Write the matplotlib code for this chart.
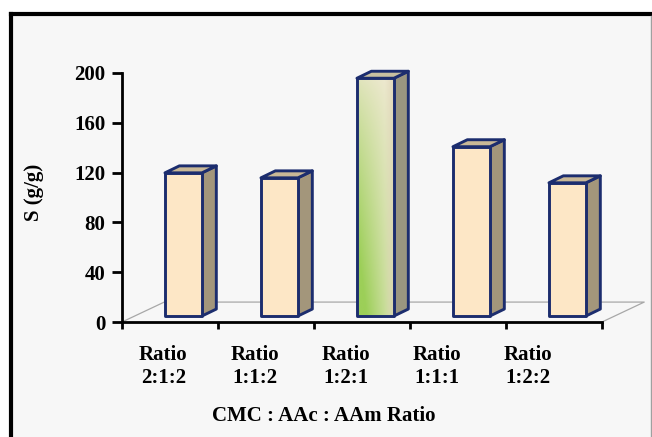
# ============================================
# 1. IMPORTS
# ============================================
import numpy as np
import matplotlib.pyplot as plt
from matplotlib.patches import Polygon, Rectangle
from matplotlib.lines import Line2D
from matplotlib.colors import to_rgb

plt.rcParams["font.family"] = ["Liberation Serif", "DejaVu Serif"]
plt.rcParams["font.weight"] = "bold"

# ============================================
# 2. DATA
# ============================================
categories = ["Ratio\n2:1:2", "Ratio\n1:1:2", "Ratio\n1:2:1", "Ratio\n1:1:1", "Ratio\n1:2:2"]
swelling = [115, 111, 191, 136, 107]
highlight = [False, False, True, False, False]
y_ticks = [0, 40, 80, 120, 160, 200]
x_title = "CMC : AAc : AAm Ratio"
y_title = "S (g/g)"

# ============================================
# 3. FIGURE + FRAME
# ============================================
W, H = 652, 437
fig = plt.figure(figsize=(W / 100, H / 100), dpi=100)
fig.patch.set_facecolor("white")

# light grey chart area with black frame (top and left)
fig.patches.append(Rectangle((9 / W, -0.05), (651 - 9) / W, (437 - 14) / H + 0.05,
                             transform=fig.transFigure, facecolor="#f7f7f7",
                             edgecolor="none", zorder=-10))
fig.lines.append(Line2D([11 / W, 11 / W], [-0.05, 1 - 14 / H], transform=fig.transFigure,
                        color="black", lw=3, solid_capstyle="projecting", zorder=-5))
fig.lines.append(Line2D([11 / W, 1.0], [1 - 14 / H, 1 - 14 / H], transform=fig.transFigure,
                        color="black", lw=3, solid_capstyle="projecting", zorder=-5))
fig.lines.append(Line2D([651 / W, 651 / W], [-0.05, 1 - 16 / H], transform=fig.transFigure,
                        color="#a0a0a0", lw=1, zorder=-5))

ax = fig.add_axes([122 / W, (H - 322) / H, 480 / W, 249 / H])
ax.set_facecolor("none")

# ============================================
# 4. 3D FLOOR + BARS
# ============================================
floor_dx, floor_dy = 0.44, 16.0     # depth of the floor (data units)
front_dx, front_dy = 0.14, 4.8      # where the bar front face sits
side_dx, side_dy = 0.15, 5.6        # depth of each bar
bar_w = 0.385
edge = "#1c2d6e"
lw_bar = 2.1

floor_col = "#a8a8a8"
ax.plot([-0.5, -0.5 + floor_dx, 4.5 + floor_dx, 4.5],
        [0, floor_dy, floor_dy, 0], color=floor_col, lw=0.9, zorder=1, clip_on=False)

plain_front, plain_side, plain_top = "#fde7c6", "#a3967b", "#c9b896"
hl_side, hl_top = "#9a9680", "#c8c0a0"

cream = np.array(to_rgb("#f2ead6"))
green = np.array(to_rgb("#9ccf58"))
dark = np.array(to_rgb("#d6ccaa"))

for i, (val, hl) in enumerate(zip(swelling, highlight)):
    x0 = i - bar_w / 2 + front_dx
    x1 = x0 + bar_w
    y0 = front_dy
    y1 = front_dy + val

    side = [(x1, y0), (x1 + side_dx, y0 + side_dy), (x1 + side_dx, y1 + side_dy), (x1, y1)]
    top = [(x0, y1), (x1, y1), (x1 + side_dx, y1 + side_dy), (x0 + side_dx, y1 + side_dy)]
    ax.add_patch(Polygon(side, closed=True, facecolor=hl_side if hl else plain_side,
                         edgecolor=edge, lw=lw_bar, joinstyle="round", zorder=3, clip_on=False))
    ax.add_patch(Polygon(top, closed=True, facecolor=hl_top if hl else plain_top,
                         edgecolor=edge, lw=lw_bar, joinstyle="round", zorder=3, clip_on=False))

    if hl:
        # green-to-cream gradient on the front face
        nx, ny = 60, 200
        xn = np.linspace(0, 1, nx)[None, :]
        yn = np.linspace(0, 1, ny)[:, None]
        t = np.clip((1 - yn) ** 0.8 * 1.05 * (1 - 0.75 * xn) + 0.2 * (1 - xn), 0, 1)
        img = cream[None, None, :] * (1 - t[..., None]) + green[None, None, :] * t[..., None]
        r = np.clip((xn - 0.75) / 0.25, 0, 1)[..., None] * 0.6
        img = img * (1 - r) + dark[None, None, :] * r
        ax.imshow(img, extent=(x0, x1, y0, y1), origin="lower", aspect="auto",
                  zorder=3.5, interpolation="bilinear")
        face = Rectangle((x0, y0), bar_w, val, facecolor="none", edgecolor=edge,
                         lw=lw_bar, joinstyle="round", zorder=4, clip_on=False)
    else:
        face = Rectangle((x0, y0), bar_w, val, facecolor=plain_front, edgecolor=edge,
                         lw=lw_bar, joinstyle="round", zorder=4, clip_on=False)
    ax.add_patch(face)

ax.set_xlim(-0.5, 4.5)
ax.set_ylim(0, 200)

# ============================================
# 5. AXES, TICKS, LABELS
# ============================================
for s in ["top", "right"]:
    ax.spines[s].set_visible(False)
for s in ["left", "bottom"]:
    ax.spines[s].set_linewidth(2)
    ax.spines[s].set_zorder(5)

ax.set_yticks(y_ticks)
ax.set_yticklabels([str(v) for v in y_ticks], fontsize=15, fontweight="bold")
ax.set_xticks(np.arange(-0.5, 5, 1.0))
ax.set_xticklabels([])
ax.tick_params(axis="y", direction="out", length=7, width=2, pad=5)
ax.tick_params(axis="x", direction="out", length=5, width=2)

for i, lab in enumerate(categories):
    ax.text(i * 0.95 - 0.07, -36, lab, ha="center", va="center", fontsize=15,
            fontweight="bold", linespacing=1.2, clip_on=False)

ax.text(1.6, -75.5, x_title, ha="center", va="center", fontsize=15, fontweight="bold",
        clip_on=False)
fig.text(34 / W, 1 - 192 / H, y_title, rotation=90, ha="center", va="center",
         fontsize=15, fontweight="bold")

fig.savefig("out.png", dpi=100, facecolor=fig.get_facecolor())
